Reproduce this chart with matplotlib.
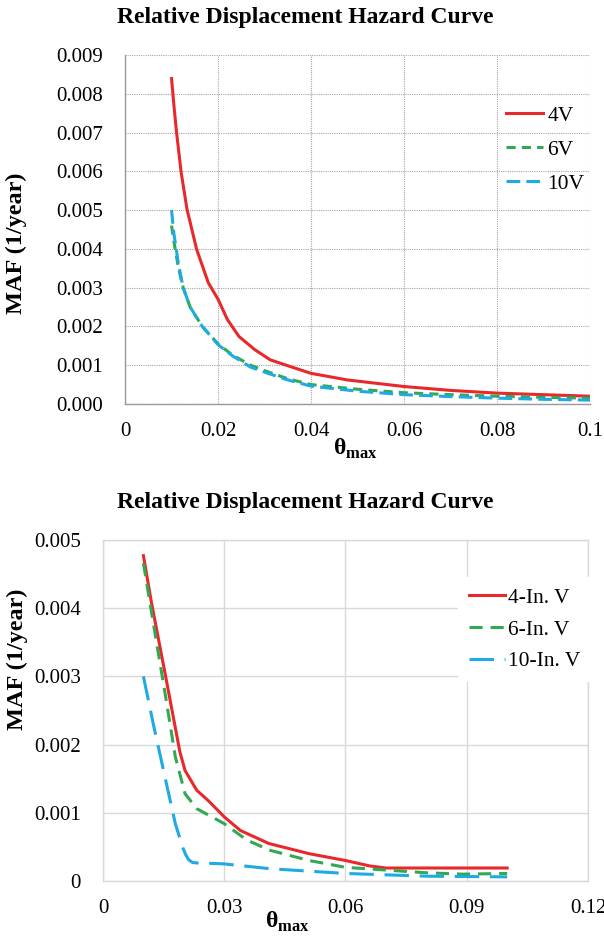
import matplotlib
matplotlib.use("Agg")
import matplotlib.pyplot as plt

plt.rcParams['font.family'] = ['Liberation Serif', 'DejaVu Serif']
plt.rcParams['mathtext.fontset'] = 'custom'
plt.rcParams['mathtext.rm'] = 'Liberation Serif'
plt.rcParams['mathtext.bf'] = 'Liberation Serif:bold'

# ---- top chart data ----
x_4v = [0.010, 0.01057, 0.01107, 0.01206, 0.01331, 0.01539, 0.01789, 0.020, 0.022, 0.0245, 0.0279,
        0.0312, 0.0354, 0.040, 0.0478, 0.060, 0.070, 0.080, 0.090, 0.100]
y_4v = [0.00839, 0.00762, 0.00701, 0.00598, 0.00503, 0.00399, 0.00313, 0.00270, 0.00218, 0.00174, 0.00140,
        0.00114, 0.00097, 0.00079, 0.00062, 0.00045, 0.00035, 0.00028, 0.00024, 0.00020]
x_6v = [0.010, 0.0105, 0.0115, 0.0125, 0.014, 0.0166, 0.020, 0.023, 0.027, 0.030, 0.035, 0.040,
        0.050, 0.060, 0.070, 0.080, 0.090, 0.100]
y_6v = [0.0046, 0.0042, 0.0035, 0.0030, 0.0025, 0.0020, 0.00155, 0.00127, 0.00100, 0.00086, 0.00065, 0.00050,
        0.00038, 0.00029, 0.00024, 0.00020, 0.00017, 0.00015]
x_10v = [0.010, 0.0105, 0.0115, 0.0125, 0.014, 0.0166, 0.020, 0.023, 0.027, 0.030, 0.035, 0.040,
         0.050, 0.060, 0.070, 0.080, 0.090, 0.100]
y_10v = [0.0050, 0.0044, 0.0036, 0.0030, 0.0025, 0.0020, 0.00153, 0.00125, 0.00095, 0.00082, 0.00062, 0.00046,
         0.00033, 0.00024, 0.00019, 0.00015, 0.00012, 0.00010]
top_xticks = [0, 0.02, 0.04, 0.06, 0.08, 0.1]
top_xlabels = ["0", "0.02", "0.04", "0.06", "0.08", "0.1"]
top_yticks = [0.000, 0.001, 0.002, 0.003, 0.004, 0.005, 0.006, 0.007, 0.008, 0.009]
top_ylabels = ["0.000", "0.001", "0.002", "0.003", "0.004", "0.005", "0.006", "0.007", "0.008", "0.009"]

# ---- bottom chart data ----
x_4in = [0.010, 0.012, 0.0155, 0.019, 0.0203, 0.0232, 0.026, 0.030, 0.034, 0.041, 0.051, 0.060, 0.066,
         0.070, 0.080, 0.090, 0.100]
y_4in = [0.00477, 0.00408, 0.0030, 0.0019, 0.00162, 0.00133, 0.00118, 0.00094, 0.00074, 0.00055, 0.00040,
         0.00030, 0.00022, 0.00019, 0.00019, 0.00019, 0.00019]
x_6in = [0.010, 0.0126, 0.0155, 0.0179, 0.0203, 0.0232, 0.030, 0.0356, 0.0413, 0.051, 0.060, 0.070,
         0.080, 0.089, 0.100]
y_6in = [0.00466, 0.00373, 0.0027, 0.00182, 0.00128, 0.00106, 0.00084, 0.00060, 0.00045, 0.00030, 0.00020,
         0.00016, 0.00012, 0.00010, 0.00011]
x_10in = [0.010, 0.0126, 0.0155, 0.0179, 0.0198, 0.0205, 0.0212, 0.0222, 0.0240, 0.026, 0.030, 0.0413,
          0.060, 0.080, 0.100]
y_10in = [0.0030, 0.00226, 0.00148, 0.00084, 0.00048, 0.00038, 0.00031, 0.00027, 0.00026, 0.00026, 0.00025,
          0.00018, 0.00011, 0.00007, 0.00006]
bot_xticks = [0, 0.03, 0.06, 0.09, 0.12]
bot_xlabels = ["0", "0.03", "0.06", "0.09", "0.12"]
bot_yticks = [0, 0.001, 0.002, 0.003, 0.004, 0.005]
bot_ylabels = ["0", "0.001", "0.002", "0.003", "0.004", "0.005"]

red = "#E8282B"
green = "#33A852"
blue = "#1EAAE2"
title = "Relative Displacement Hazard Curve"
xlab = r"$\mathbf{θ}_{\mathbf{max}}$"

fig = plt.figure(figsize=(6.04, 9.36), dpi=100)

fig.text(0.505, 0.981, title, ha="center", va="center", fontsize=17, fontweight="bold")
fig.text(0.505, 0.463, title, ha="center", va="center", fontsize=17, fontweight="bold")

# top chart
ax1 = fig.add_axes([0.207, 0.5684, 0.770, 0.3729])
ax1.plot(x_4v, y_4v, color=red, lw=2.2, label="4V")
ax1.plot(x_6v, y_6v, color=green, lw=2.2, dashes=(3, 2), label="6V")
ax1.plot(x_10v, y_10v, color=blue, lw=2.2, dashes=(4.5, 2), label="10V")
ax1.set_xlim(0, 0.1)
ax1.set_ylim(0, 0.009)
ax1.set_xticks(top_xticks)
ax1.set_xticklabels(top_xlabels)
ax1.set_yticks(top_yticks)
ax1.set_yticklabels(top_ylabels)
ax1.grid(True, color="#A6A6A6", lw=0.8, linestyle=(0, (1, 1)))
ax1.set_axisbelow(True)
for s in ["top", "right"]:
    ax1.spines[s].set_visible(False)
for s in ["left", "bottom"]:
    ax1.spines[s].set_color("#9A9A9A")
    ax1.spines[s].set_linewidth(1.0)
ax1.tick_params(length=0, labelsize=15)
ax1.tick_params(axis="y", pad=16)
ax1.tick_params(axis="x", pad=13)
ax1.set_ylabel("MAF (1/year)", fontsize=17.5, fontweight="bold")
ax1.yaxis.set_label_coords(-0.21, 0.46)
ax1.set_xlabel(xlab, fontsize=17)
ax1.xaxis.set_label_coords(0.495, -0.095)
ax1.legend(loc="upper left", bbox_to_anchor=(0.82, 0.855), frameon=False, fontsize=15.5,
           handlelength=1.7, handletextpad=0.2, labelspacing=0.65, borderpad=0, borderaxespad=0)

# bottom chart
ax2 = fig.add_axes([0.1705, 0.0588, 0.803, 0.3643])
ax2.plot(x_4in, y_4in, color=red, lw=2.2, label="4-In. V")
ax2.plot(x_6in, y_6in, color=green, lw=2.2, dashes=(4.3, 2.6), label="6-In. V")
ax2.plot(x_10in, y_10in, color=blue, lw=2.2, dashes=(8, 3.5), label="10-In. V")
ax2.set_xlim(0, 0.12)
ax2.set_ylim(0, 0.005)
ax2.set_xticks(bot_xticks)
ax2.set_xticklabels(bot_xlabels)
ax2.set_yticks(bot_yticks)
ax2.set_yticklabels(bot_ylabels)
ax2.grid(True, color="#D9D9D9", lw=1.0)
ax2.set_axisbelow(True)
for s in ax2.spines.values():
    s.set_color("#D9D9D9")
    s.set_linewidth(1.0)
ax2.tick_params(length=0, labelsize=15)
ax2.tick_params(axis="y", pad=16)
ax2.tick_params(axis="x", pad=13)
ax2.set_ylabel("MAF (1/year)", fontsize=17.5, fontweight="bold")
ax2.yaxis.set_label_coords(-0.155, 0.65)
ax2.set_xlabel(xlab, fontsize=17)
ax2.xaxis.set_label_coords(0.38, -0.085)
leg = ax2.legend(loc="upper left", bbox_to_anchor=(0.732, 0.892), frameon=True, fontsize=15.5,
                 handlelength=1.7, handletextpad=0.1, labelspacing=0.55, borderpad=0.5,
                 borderaxespad=0, fancybox=False, framealpha=1)
leg.get_frame().set_edgecolor("none")
leg.get_frame().set_facecolor("white")

fig.savefig("out.png", dpi=100)
